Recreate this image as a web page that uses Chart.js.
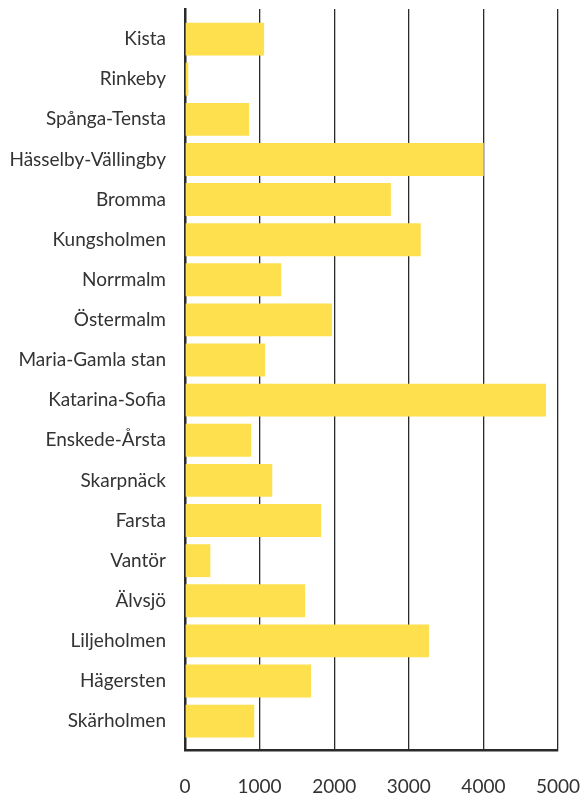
<!DOCTYPE html>
<html>
<head>
<meta charset="utf-8">
<script src="https://cdn.jsdelivr.net/npm/chart.js@4"></script>
<style>
  html, body { margin: 0; padding: 0; background: #fff; }
  #wrap { width: 581px; height: 796px; }
</style>
</head>
<body>
<div id="wrap"><canvas id="chart" width="581" height="796"></canvas></div>
<script>
const districts = [
  "Kista", "Rinkeby", "Spånga-Tensta", "Hässelby-Vällingby", "Bromma",
  "Kungsholmen", "Norrmalm", "Östermalm", "Maria-Gamla stan", "Katarina-Sofia",
  "Enskede-Årsta", "Skarpnäck", "Farsta", "Vantör", "Älvsjö",
  "Liljeholmen", "Hägersten", "Skärholmen",
];
const values = [
  1060, 45, 860, 4005, 2760,
  3160, 1290, 1970, 1075, 4840,
  888, 1170, 1825, 340, 1610,
  3270, 1690, 928,
];
const xTicks = [0, 1000, 2000, 3000, 4000, 5000];

const textColor = "#333333";
const fontFamily = "Lato, 'Open Sans', sans-serif";

new Chart(document.getElementById("chart"), {
  type: "bar",
  data: {
    datasets: [
      {
        data: values.map((v, i) => ({ x: v, y: i })),
        backgroundColor: "#fee04e",
        borderWidth: 0,
        categoryPercentage: 0.82,
        barPercentage: 1,
      },
    ],
  },
  options: {
    indexAxis: "y",
    responsive: false,
    animation: false,
    layout: { padding: { top: 9, right: 23, left: 0, bottom: 0 } },
    plugins: {
      legend: { display: false },
      tooltip: { enabled: false },
    },
    scales: {
      x: {
        type: "linear",
        min: xTicks[0],
        max: xTicks[xTicks.length - 1],
        afterBuildTicks: (axis) => {
          axis.ticks = xTicks.map((v) => ({ value: v }));
        },
        afterFit: (axis) => {
          axis.height = 46;
          axis.paddingLeft = 0;
          axis.paddingRight = 0;
        },
        ticks: {
          color: textColor,
          font: { family: fontFamily, size: 19 },
          padding: 25,
          callback: (value) => String(value),
        },
        grid: {
          color: "#2a2a2a",
          lineWidth: 1.3,
          drawTicks: false,
        },
        border: { color: "#2a2a2a", width: 2.5 },
      },
      y: {
        type: "linear",
        reverse: true,
        offset: false,
        min: -0.75,
        max: 17.72,
        afterBuildTicks: (axis) => {
          axis.ticks = districts.map((_, i) => ({ value: i }));
        },
        afterFit: (axis) => {
          axis.width = 185;
          axis.paddingTop = 0;
          axis.paddingBottom = 0;
        },
        ticks: {
          color: textColor,
          font: { family: fontFamily, size: 19 },
          padding: 19,
          autoSkip: false,
          callback: (value) => districts[value] ?? "",
        },
        grid: { display: false, drawTicks: false, offset: false },
        border: { color: "#2a2a2a", width: 2.5 },
      },
    },
  },
});
</script>
</body>
</html>
